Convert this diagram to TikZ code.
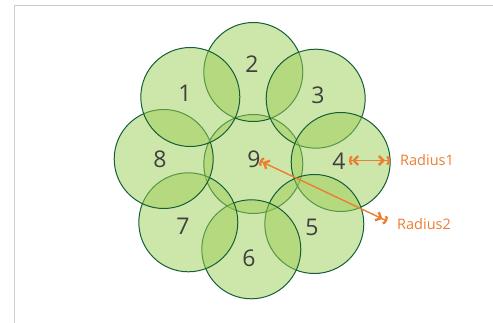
\documentclass[tikz,border=0pt]{standalone}
\usepackage{fontspec}
\setmainfont{Open Sans}
\usetikzlibrary{arrows.meta}
\definecolor{leaf}{RGB}{155,205,85}
\definecolor{rim}{RGB}{20,95,55}
\definecolor{ink}{RGB}{64,64,64}
\definecolor{accent}{RGB}{237,125,49}
\definecolor{framegray}{RGB}{205,205,205}
\begin{document}
\begin{tikzpicture}[x=1pt,y=-1pt,
  cell/.style={circle, draw=rim, line width=1pt, fill=leaf, fill opacity=0.5, draw opacity=1, minimum size=99pt, inner sep=0pt},
  num/.style={text=ink, font=\fontsize{23}{23}\selectfont, inner sep=0pt},
  lab/.style={text=accent, font=\fontsize{14.5}{15}\selectfont, anchor=west, inner sep=0pt},
  measure/.style={draw=accent, line width=1.4pt,
    {Arc Barb[length=3pt,width=10pt,line width=2.2pt,sep=2pt] Straight Barb[length=4.5pt,width=9pt,line width=2.4pt]}-{Straight Barb[length=4.5pt,width=9pt,line width=2.4pt,sep=2pt] Arc Barb[length=3pt,width=10pt,line width=2.2pt]}},
  border/.style={draw=framegray, line width=1pt}]
\useasboundingbox (0,0) rectangle (493,323);
% frame
\coordinate (f1) at (14,323);
\coordinate (f2) at (14,6);
\coordinate (f3) at (493,6);
\draw[border] (f1) -- (f2) -- (f3);
% circles
\node[cell] (c9) at (253.3,164) {};
\node[cell] (c2) at (253.3,72) {};
\node[cell] (c3) at (315.7,98.7) {};
\node[cell] (c4) at (340.7,162) {};
\node[cell] (c5) at (314.3,224) {};
\node[cell] (c6) at (251.3,249.3) {};
\node[cell] (c7) at (188.3,222.3) {};
\node[cell] (c8) at (163.7,159) {};
\node[cell] (c1) at (190.3,97) {};
% numbers
\node[num] (l1) at (185,93) {1};
\node[num] (l2) at (252,64) {2};
\node[num] (l3) at (318,95) {3};
\node[num] (l4) at (339,161) {4};
\node[num] (l5) at (312,227) {5};
\node[num] (l6) at (249,258) {6};
\node[num] (l7) at (183,226) {7};
\node[num] (l8) at (160,159) {8};
\node[num] (l9) at (254,159) {9};
% measures
\coordinate (r1a) at (347,160.5);
\coordinate (r1b) at (390,160.5);
\coordinate (r2a) at (258,160);
\coordinate (r2b) at (387,221);
\draw[measure] (r1a) -- (r1b);
\draw[measure] (r2a) -- (r2b);
\node[lab] (t1) at (400,160.5) {Radius1};
\node[lab] (t2) at (397,224) {Radius2};
\end{tikzpicture}
\end{document}
